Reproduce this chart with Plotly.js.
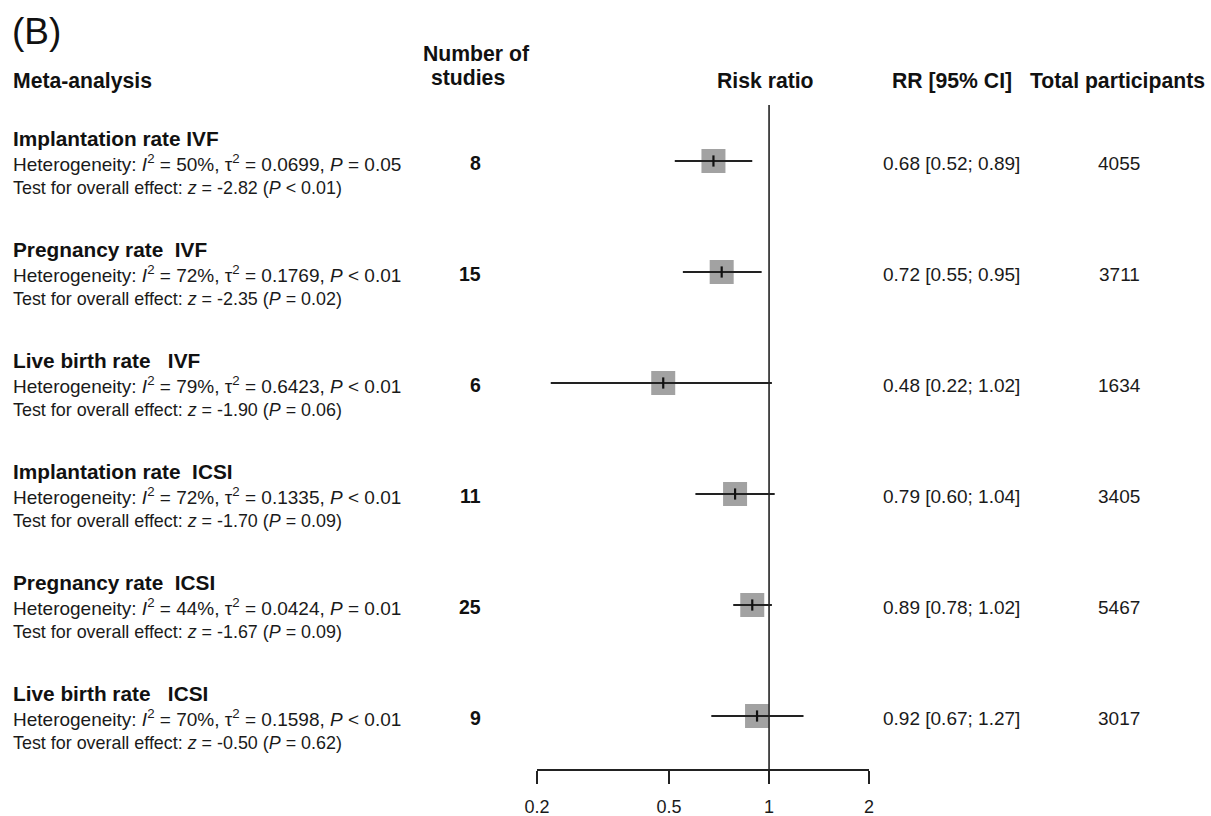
<!DOCTYPE html>
<html>
<head>
<meta charset="utf-8">
<script src="https://cdn.plot.ly/plotly-3.0.1.min.js"></script>
<style>html,body{margin:0;padding:0;background:#fff;}#chart{width:1211px;height:816px;}</style>
</head>
<body>
<div id="chart"></div>
<script>
// ---- data ----
const outcomes = ["Implantation rate IVF", "Pregnancy rate&nbsp;&nbsp;IVF", "Live birth rate&nbsp;&nbsp;&nbsp;IVF",
                  "Implantation rate&nbsp;&nbsp;ICSI", "Pregnancy rate&nbsp;&nbsp;ICSI", "Live birth rate&nbsp;&nbsp;&nbsp;ICSI"];
const i2 = [50, 72, 79, 72, 44, 70];
const tau2 = ["0.0699", "0.1769", "0.6423", "0.1335", "0.0424", "0.1598"];
const hetP = ["= 0.05", "&lt; 0.01", "&lt; 0.01", "&lt; 0.01", "= 0.01", "&lt; 0.01"];
const zVals = ["-2.82", "-2.35", "-1.90", "-1.70", "-1.67", "-0.50"];
const zP = ["&lt; 0.01", "= 0.02", "= 0.06", "= 0.09", "= 0.09", "= 0.62"];
const nStudies = [8, 15, 6, 11, 25, 9];
const rr = [0.68, 0.72, 0.48, 0.79, 0.89, 0.92];
const ciLow = [0.52, 0.55, 0.22, 0.60, 0.78, 0.67];
const ciHigh = [0.89, 0.95, 1.02, 1.04, 1.02, 1.27];
const participants = [4055, 3711, 1634, 3405, 5467, 3017];
const tickVals = [0.2, 0.5, 1, 2];
const tickText = ["0.2", "0.5", "1", "2"];

// ---- layout helpers ----
const W = 1211, H = 816;
const FONT = "Liberation Sans, Arial, Helvetica, sans-serif";
const rows = rr.map((_, i) => i);
const px = v => v / W;
const py = v => 1 - v / H;
const ROW0 = 161, ROWSTEP = 111;       // pixel of first row, spacing
const yTop = -ROW0 / ROWSTEP, yBot = (H - ROW0) / ROWSTEP;
const AXIS_Y = 769;
const xRange = [Math.log10(0.2), Math.log10(2)];
const HEAD = 21.2;

// CI line segments
const ciX = [], ciY = [];
rows.forEach(i => { ciX.push(ciLow[i], ciHigh[i], null); ciY.push(i, i, null); });

const traces = [
  { type: "scatter", mode: "markers", x: rr, y: rows, hoverinfo: "skip",
    marker: { symbol: "square", size: 24, color: "#a2a2a2", line: { width: 0 } } },
  { type: "scatter", mode: "lines", x: ciX, y: ciY, hoverinfo: "skip",
    line: { color: "#222", width: 2 } },
  { type: "scatter", mode: "markers", x: rr, y: rows, hoverinfo: "skip",
    marker: { symbol: "line-ns", size: 8, line: { color: "#111", width: 2.2 } } }
];

const ann = [];
function A(o) { ann.push(Object.assign({ showarrow: false, xref: "paper", yref: "paper",
  font: { family: FONT, size: 19, color: "#1a1a1a" } }, o)); }

// headers
A({ x: px(10), y: py(32), xanchor: "left", yanchor: "middle", text: "(B)", font: { family: FONT, size: 37, color: "#111" } });
A({ x: px(11), y: py(81), xanchor: "left", yanchor: "middle", text: "<b>Meta-analysis</b>", font: { family: FONT, size: HEAD, color: "#111" } });
A({ x: px(476), y: py(54), xanchor: "center", yanchor: "middle", text: "<b>Number of</b>", font: { family: FONT, size: HEAD, color: "#111" } });
A({ x: px(468), y: py(77), xanchor: "center", yanchor: "middle", text: "<b>studies</b>", font: { family: FONT, size: HEAD, color: "#111" } });
A({ x: px(765), y: py(81), xanchor: "center", yanchor: "middle", text: "<b>Risk ratio</b>", font: { family: FONT, size: HEAD, color: "#111" } });
A({ x: px(890), y: py(81), xanchor: "left", yanchor: "middle", text: "<b>RR [95% CI]</b>", font: { family: FONT, size: HEAD, color: "#111" } });
A({ x: px(1028), y: py(81), xanchor: "left", yanchor: "middle", text: "<b>Total participants</b>", font: { family: FONT, size: HEAD, color: "#111" } });

// rows
rows.forEach(i => {
  const base = { yref: "y", y: i, yanchor: "middle" };
  A(Object.assign({}, base, { x: px(11), xanchor: "left", yshift: 23,
    text: "<b>" + outcomes[i] + "</b>", font: { family: FONT, size: 20.8, color: "#111" } }));
  A(Object.assign({}, base, { x: px(11), xanchor: "left", yshift: -2,
    text: "Heterogeneity: <i>I</i><sup>2</sup> = " + i2[i] + "%, \u03c4<sup>2</sup> = " + tau2[i] + ", <i>P</i> " + hetP[i],
    font: { family: FONT, size: 19, color: "#1a1a1a" } }));
  A(Object.assign({}, base, { x: px(11), xanchor: "left", yshift: -27,
    text: "Test for overall effect: <i>z</i> = " + zVals[i] + " (<i>P</i> " + zP[i] + ")",
    font: { family: FONT, size: 17.9, color: "#1a1a1a" } }));
  A(Object.assign({}, base, { x: px(483), xanchor: "right", yshift: -2,
    text: "<b>" + nStudies[i] + "</b>", font: { family: FONT, size: 19.5, color: "#111" } }));
  A(Object.assign({}, base, { x: px(881), xanchor: "left", yshift: -2,
    text: rr[i].toFixed(2) + " [" + ciLow[i].toFixed(2) + "; " + ciHigh[i].toFixed(2) + "]",
    font: { family: FONT, size: 19, color: "#1a1a1a" } }));
  A(Object.assign({}, base, { x: px(1119), xanchor: "center", yshift: -2,
    text: String(participants[i]), font: { family: FONT, size: 19, color: "#1a1a1a" } }));
});

const nullFrac = (0 - xRange[0]) / (xRange[1] - xRange[0]);

const layout = {
  width: W, height: H, margin: { l: 0, r: 0, t: 0, b: 0 },
  paper_bgcolor: "#fff", plot_bgcolor: "rgba(0,0,0,0)",
  showlegend: false,
  xaxis: { type: "log", range: xRange, domain: [px(537), px(869)],
    anchor: "free", position: py(AXIS_Y),
    showline: true, linecolor: "#222", linewidth: 1.6,
    ticks: "outside", ticklen: 13, tickwidth: 1.6, tickcolor: "#222",
    tickvals: tickVals, ticktext: tickText, ticklabelstandoff: 8,
    tickfont: { family: FONT, size: 18, color: "#1a1a1a" },
    showgrid: false, zeroline: false, fixedrange: true },
  yaxis: { range: [yBot, yTop], domain: [0, 1], visible: false, showgrid: false, zeroline: false, fixedrange: true },
  shapes: [
    { type: "line", xref: "x domain", yref: "paper", x0: nullFrac, x1: nullFrac,
      y0: py(AXIS_Y), y1: py(105), line: { color: "#222", width: 1.6 } }
  ],
  annotations: ann
};

Plotly.newPlot("chart", traces, layout, { displayModeBar: false, staticPlot: true });
</script>
</body>
</html>
